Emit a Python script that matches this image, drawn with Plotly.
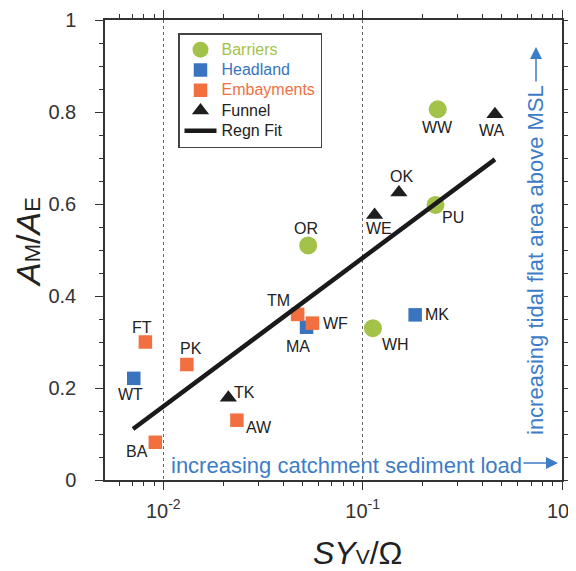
import numpy as np
import plotly.graph_objects as go

# ---- data ----
barriers_names = ["OR", "WW", "PU", "WH"]
barriers_x = [0.0533, 0.238, 0.232, 0.1126]
barriers_y = [0.51, 0.806, 0.598, 0.330]

headland_names = ["MA", "WT", "MK"]
headland_x = [0.0523, 0.00711, 0.1834]
headland_y = [0.332, 0.221, 0.359]

embay_names = ["TM", "WF", "FT", "PK", "AW", "BA"]
embay_x = [0.0472, 0.0560, 0.00813, 0.01313, 0.0234, 0.00912]
embay_y = [0.360, 0.341, 0.300, 0.251, 0.130, 0.082]

funnel_names = ["WA", "OK", "WE", "TK"]
funnel_x = [0.461, 0.152, 0.1148, 0.0212]
funnel_y = [0.795, 0.625, 0.576, 0.179]

fit_x = [0.00705, 0.461]
fit_y = [0.111, 0.697]

x_tickvals = [0.01, 0.1, 1]
x_ticktext = ["10<sup>-2</sup>", "10<sup>-1</sup>", "10<sup>0</sup>"]

# label offsets (pixels) for each point
label_offsets = {
    "OR": (-2, 17), "WW": (0, -18), "PU": (17, -13), "WH": (23, -16),
    "MA": (-9, -19), "WT": (-3, -16), "MK": (22, 0),
    "TM": (-19, 14), "WF": (23, 0), "FT": (-3, 15), "PK": (4, 16),
    "AW": (22, -7), "BA": (-18, -9),
    "WA": (-3, -16), "OK": (3, 16), "WE": (4, -13), "TK": (16, 5),
}

GREEN = "#a3c24a"
BLUE = "#3a74bf"
ORANGE = "#f2703f"
TXTBLUE = "#3d7cc7"
FONT = "Liberation Sans, Arial, sans-serif"

def leg(name, color, size=16):
    return f"<span style='font-size:{size}px;color:{color}'>{name}</span>"

fig = go.Figure()
fig.add_trace(go.Scatter(x=barriers_x, y=barriers_y, mode="markers",
                         name=leg("Barriers", GREEN),
                         marker=dict(symbol="circle", size=18, color=GREEN)))
fig.add_trace(go.Scatter(x=headland_x, y=headland_y, mode="markers",
                         name=leg("Headland", BLUE),
                         marker=dict(symbol="square", size=13.5, color=BLUE)))
fig.add_trace(go.Scatter(x=embay_x, y=embay_y, mode="markers",
                         name=leg("Embayments", ORANGE),
                         marker=dict(symbol="square", size=13.5, color=ORANGE)))
fig.add_trace(go.Scatter(x=funnel_x, y=funnel_y, mode="markers",
                         name=leg("Funnel", "#222"),
                         marker=dict(symbol="triangle-up", size=15, color="#1e1e1e")))
fig.add_trace(go.Scatter(x=fit_x, y=fit_y, mode="lines", name=leg("Regn Fit", "#222"),
                         line=dict(color="#1a1a1a", width=4.5)))

ann = []
for names, xs, ys in [(barriers_names, barriers_x, barriers_y),
                      (headland_names, headland_x, headland_y),
                      (embay_names, embay_x, embay_y),
                      (funnel_names, funnel_x, funnel_y)]:
    for n, xv, yv in zip(names, xs, ys):
        dx, dy = label_offsets[n]
        ann.append(dict(x=np.log10(xv), y=yv, xref="x", yref="y", text=n,
                        showarrow=False, xshift=dx, yshift=dy,
                        font=dict(family=FONT, size=16, color="#222")))

# plot area in reference-picture pixels
L, T, W, H = 105, 20, 457, 460
OFF = 8  # browser body margin
FIG_W, FIG_H = 576 - OFF, 571 - OFF

def px(xp):
    return (xp - L) / W
def py(yp):
    return (T + H - yp) / H

ann.append(dict(x=px(169), y=py(465), xref="paper", yref="paper",
                xanchor="left", yanchor="middle",
                text="increasing catchment sediment load", showarrow=False,
                font=dict(family=FONT, size=22, color=TXTBLUE)))
ann.append(dict(x=px(558), y=py(463), ax=-36, ay=0,
                xref="paper", yref="paper", axref="pixel", ayref="pixel",
                text="", showarrow=True, arrowhead=2, arrowsize=1.6, arrowwidth=1.5,
                arrowcolor=TXTBLUE))
ann.append(dict(x=px(535), y=py(437), xref="paper", yref="paper",
                xanchor="center", yanchor="bottom", textangle=-90,
                text="increasing tidal flat area above MSL", showarrow=False,
                font=dict(family=FONT, size=22, color=TXTBLUE)))
ann.append(dict(x=px(536), y=py(47), ax=0, ay=36,
                xref="paper", yref="paper", axref="pixel", ayref="pixel",
                text="", showarrow=True, arrowhead=2, arrowsize=1.6, arrowwidth=1.5,
                arrowcolor=TXTBLUE))
# axis titles
ann.append(dict(x=px(28), y=py(242), xref="paper", yref="paper",
                xanchor="center", yanchor="middle", textangle=-90, showarrow=False,
                text="<i>A</i><span style='font-size:22px'>M</span>/<i>A</i><span style='font-size:22px'>E</span>",
                font=dict(family=FONT, size=34, color="#222")))
ann.append(dict(x=px(358), y=py(553), xref="paper", yref="paper",
                xanchor="center", yanchor="middle", showarrow=False,
                text="<i>SY</i><span style='font-size:21px'>V</span>/Ω",
                font=dict(family=FONT, size=32, color="#222")))

fig.update_layout(
    width=FIG_W, height=FIG_H,
    margin=dict(l=L - OFF, r=FIG_W - (L - OFF) - W, t=T - OFF, b=FIG_H - (T - OFF) - H,
                autoexpand=False),
    paper_bgcolor="white", plot_bgcolor="white",
    font=dict(family=FONT, size=16, color="#333"),
    showlegend=True,
    annotations=ann,
    legend=dict(x=px(178), y=py(33), xanchor="left", yanchor="top",
                bordercolor="#444", borderwidth=1.5, bgcolor="white",
                font=dict(family=FONT, size=13.3, color="#222"),
                itemwidth=32, tracegroupgap=0),
)

minor_x = [m * 10.0 ** e for e in (-3, -2, -1) for m in range(2, 10) if 0.0051 < m * 10.0 ** e < 1]

fig.update_xaxes(type="log", range=[np.log10(0.0051), 0], automargin=False,
                 tickvals=x_tickvals, ticktext=x_ticktext, ticklabeloverflow="allow",
                 ticks="outside", ticklen=8, tickwidth=1.3, tickcolor="#333",
                 showline=True, linecolor="#333", linewidth=1.5, mirror="ticks",
                 showgrid=True, gridcolor="#666", griddash="dot", gridwidth=1,
                 zeroline=False, ticklabelstandoff=4,
                 tickfont=dict(family=FONT, size=20, color="#333"),
                 minor=dict(tickvals=minor_x, ticks="outside", ticklen=4,
                            tickwidth=1.2, tickcolor="#333", showgrid=False))
fig.update_yaxes(range=[0, 1], dtick=0.2, tick0=0, automargin=False,
                 ticks="outside", ticklen=8, tickwidth=1.3, tickcolor="#333",
                 showline=True, linecolor="#333", linewidth=1.5, mirror="ticks",
                 showgrid=False, zeroline=False, ticklabelstandoff=15,
                 ticklabeloverflow="allow",
                 tickfont=dict(family=FONT, size=20, color="#333"),
                 minor=dict(dtick=0.05, ticks="outside", ticklen=4,
                            tickwidth=1.2, tickcolor="#333", showgrid=False))

fig.write_html("out.html")
